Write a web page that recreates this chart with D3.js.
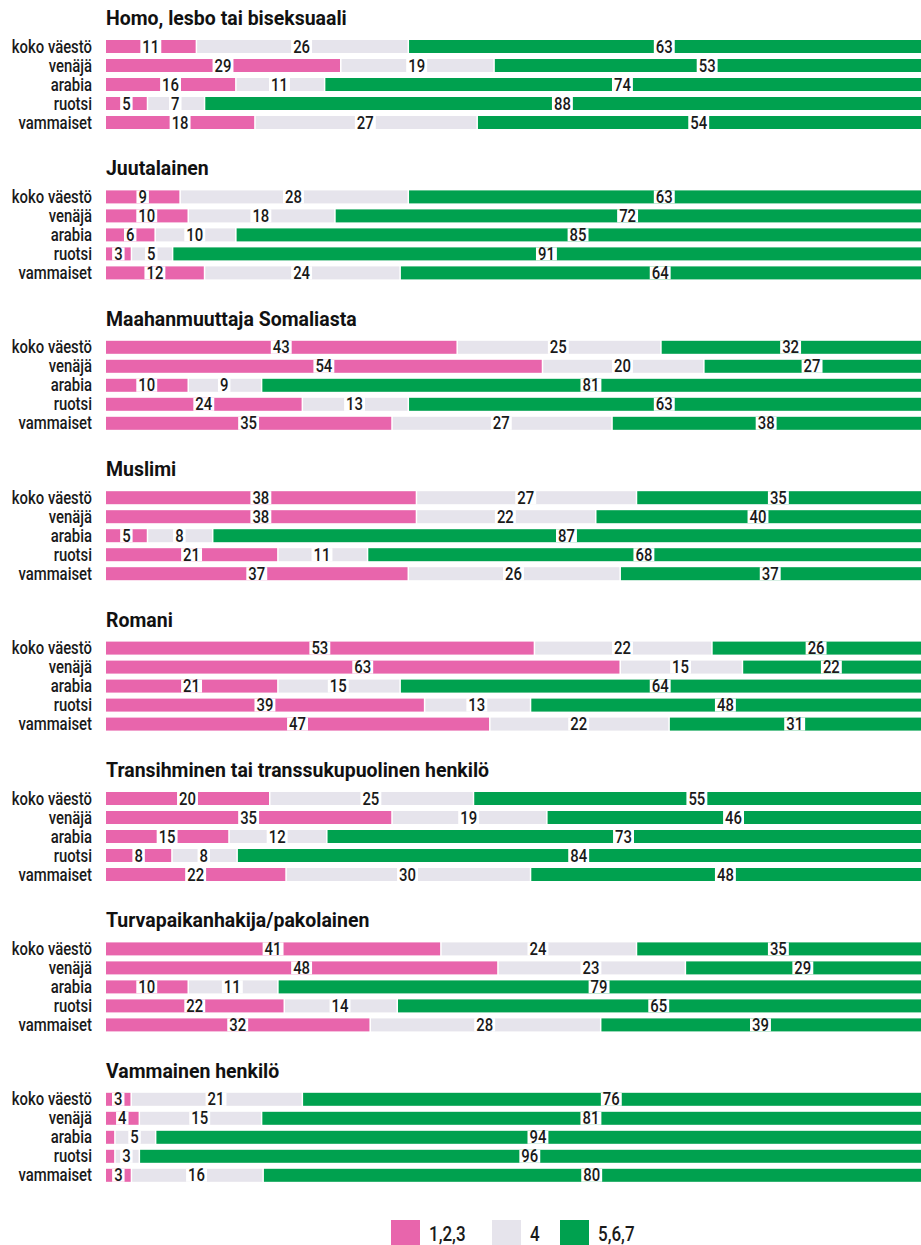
<!DOCTYPE html>
<html>
<head>
<meta charset="utf-8">
<script src="https://cdn.jsdelivr.net/npm/d3@7"></script>
<style>
  body { margin: 0; background: #fff; }
  svg { display: block; font-family: Roboto, "Noto Sans", sans-serif; }
</style>
</head>
<body>
<svg id="chart" width="921" height="1245"></svg>
<script>
const titles = [
  "Homo, lesbo tai biseksuaali",
  "Juutalainen",
  "Maahanmuuttaja Somaliasta",
  "Muslimi",
  "Romani",
  "Transihminen tai transsukupuolinen henkilö",
  "Turvapaikanhakija/pakolainen",
  "Vammainen henkilö"
];
const categories = ["koko väestö", "venäjä", "arabia", "ruotsi", "vammaiset"];
const keys = ["1,2,3", "4", "5,6,7"];

// one row of 5 values (categories order) per title
const lowValues = [
  [11, 29, 16, 5, 18],
  [9, 10, 6, 3, 12],
  [43, 54, 10, 24, 35],
  [38, 38, 5, 21, 37],
  [53, 63, 21, 39, 47],
  [20, 35, 15, 8, 22],
  [41, 48, 10, 22, 32],
  [3, 4, 1, 1, 3]
];
const midValues = [
  [26, 19, 11, 7, 27],
  [28, 18, 10, 5, 24],
  [25, 20, 9, 13, 27],
  [27, 22, 8, 11, 26],
  [22, 15, 15, 13, 22],
  [25, 19, 12, 8, 30],
  [24, 23, 11, 14, 28],
  [21, 15, 5, 3, 16]
];
const highValues = [
  [63, 53, 74, 88, 54],
  [63, 72, 85, 91, 64],
  [32, 27, 81, 63, 38],
  [35, 40, 87, 68, 37],
  [26, 22, 64, 48, 31],
  [55, 46, 73, 84, 48],
  [35, 29, 79, 65, 39],
  [76, 81, 94, 96, 80]
];

const colors = ["#e865ac", "#e6e4ec", "#00a14f"];

// no condensed font installed, so squeeze text horizontally
const SQ = 0.85;
const TSQ = 0.95;

const svg = d3.select("#chart");

const x = d3.scaleLinear().domain([0, 1]).range([106, 921]);
const panel = d3.scaleBand().domain(titles).range([40, 40 + titles.length * 150.4]);
const row = d3.scaleBand().domain(categories).range([0, 89]).paddingInner(6 / 19);
const color = d3.scaleOrdinal().domain(keys).range(colors);

const stack = d3.stack().keys(keys).offset(d3.stackOffsetExpand);

function at(px, py, s) {
  return "translate(" + px + "," + py + ") scale(" + s + ",1)";
}

titles.forEach((title, p) => {
  const rows = categories.map((c, i) => ({
    cat: c,
    "1,2,3": lowValues[p][i],
    "4": midValues[p][i],
    "5,6,7": highValues[p][i]
  }));
  const series = stack(rows);

  const g = svg.append("g")
    .attr("transform", "translate(0," + panel(title) + ")");

  g.append("text")
    .attr("transform", at(106, -15, TSQ))
    .attr("font-size", 20.5)
    .attr("font-weight", "bold")
    .attr("fill", "#111")
    .text(title);

  g.selectAll(".cat")
    .data(categories)
    .enter().append("text")
    .attr("class", "cat")
    .attr("transform", d => at(92, row(d) + 12.5, SQ))
    .attr("text-anchor", "end")
    .attr("font-size", 17.5)
    .attr("font-weight", 500)
    .attr("fill", "#1a1a1a")
    .text(d => d);

  const serie = g.selectAll(".serie")
    .data(series)
    .enter().append("g")
    .attr("class", "serie")
    .attr("fill", d => color(d.key));

  serie.selectAll("rect")
    .data(d => d.map(s => ({ s, k: d.index, key: d.key })))
    .enter().append("rect")
    .attr("x", d => x(d.s[0]) + (d.k > 0 ? 1.5 : 0))
    .attr("y", d => row(d.s.data.cat))
    .attr("width", d => Math.max(0, x(d.s[1]) - x(d.s[0]) - (d.k > 0 ? 1.5 : 0)))
    .attr("height", row.bandwidth());

  // value labels with white backing
  const labels = series.flatMap(d => d.map(s => ({ s, key: d.key })))
    .filter(d => d.s.data[d.key] >= 2);

  const lab = g.selectAll(".lab")
    .data(labels)
    .enter().append("g")
    .attr("class", "lab");

  const txt = lab.append("text")
    .attr("transform", d => at((x(d.s[0]) + x(d.s[1])) / 2, row(d.s.data.cat) + 12.5, SQ))
    .attr("text-anchor", "middle")
    .attr("font-size", 17.5)
    .attr("font-weight", 500)
    .attr("fill", "#1a1a1a")
    .text(d => d.s.data[d.key]);

  txt.each(function(d) {
    const w = this.getBBox().width * SQ;
    const cx = (x(d.s[0]) + x(d.s[1])) / 2;
    d3.select(this.parentNode).insert("rect", "text")
      .attr("x", cx - w / 2 - 2)
      .attr("y", row(d.s.data.cat))
      .attr("width", w + 4)
      .attr("height", row.bandwidth())
      .attr("fill", "#fff");
  });
});

// legend
const legendX = [391, 492, 560];
const legend = svg.selectAll(".legend")
  .data(keys)
  .enter().append("g")
  .attr("class", "legend")
  .attr("transform", (d, i) => "translate(" + legendX[i] + ",1220)");

legend.append("rect")
  .attr("width", 29)
  .attr("height", 29)
  .attr("fill", d => color(d));

legend.append("text")
  .attr("transform", at(38, 21, SQ))
  .attr("font-size", 20)
  .attr("font-weight", 500)
  .attr("fill", "#1a1a1a")
  .text(d => d);
</script>
</body>
</html>
